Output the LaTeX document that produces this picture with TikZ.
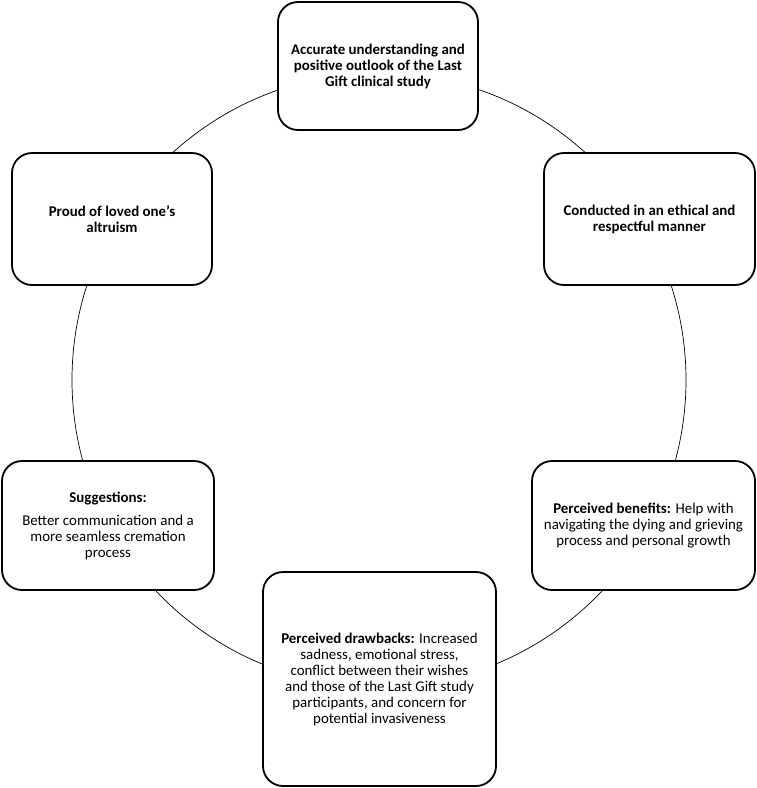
\documentclass[tikz,border=0pt]{standalone}
\usepackage{fontspec}
\setmainfont{Carlito}
\begin{document}
\begin{tikzpicture}[x=1pt,y=-1pt,
  boxstyle/.style={draw=black, line width=1.8pt, rounded corners=20pt, fill=white,
    align=center, inner sep=0pt, font=\fontsize{14.9}{16}\selectfont},
  ringstyle/.style={draw=black, line width=0.7pt}]
\useasboundingbox (0,0) rectangle (757,788);
\node[ringstyle, circle, minimum size=614pt, inner sep=0pt] (ring) at (379,380) {};
\node[boxstyle, minimum width=200pt, minimum height=128pt] (top) at (378,66)
  {\textbf{Accurate understanding and}\\\textbf{positive outlook of the Last}\\\textbf{Gift clinical study}};
\node[boxstyle, minimum width=211pt, minimum height=132pt] (ethic) at (649.5,219)
  {\textbf{Conducted in an ethical and}\\\textbf{respectful manner}};
\node[boxstyle, minimum width=200pt, minimum height=132pt] (proud) at (112,219)
  {\textbf{Proud of loved one’s}\\\textbf{altruism}};
\node[boxstyle, minimum width=223pt, minimum height=129pt] (benef) at (643.5,525.5)
  {\textbf{Perceived benefits:} Help with\\navigating the dying and grieving\\process and personal growth};
\node[boxstyle, minimum width=233pt, minimum height=214pt] (drawb) at (379.5,679)
  {\textbf{Perceived drawbacks:} Increased\\sadness, emotional stress,\\conflict between their wishes\\and those of the Last Gift study\\participants, and concern for\\potential invasiveness};
\node[boxstyle, minimum width=212pt, minimum height=129pt] (sugg) at (108,525.5)
  {\textbf{Suggestions:}\\[7pt]Better communication and a\\more seamless cremation\\process};
\end{tikzpicture}
\end{document}
